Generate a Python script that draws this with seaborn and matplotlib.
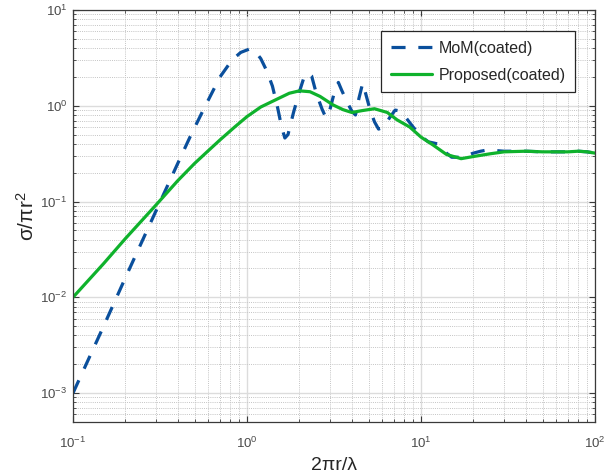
import numpy as np
import pandas as pd
import matplotlib
matplotlib.use("Agg")
import matplotlib.pyplot as plt
import seaborn as sns

# Normalized RCS vs. electrical size, coated cylinder
mom_x = [0.1, 0.15, 0.2, 0.3, 0.4, 0.47, 0.56, 0.7, 0.82, 0.92, 1.03, 1.12,
         1.2, 1.3, 1.4, 1.5, 1.58, 1.65, 1.72, 1.85, 2.0, 2.12, 2.24, 2.35,
         2.5, 2.7, 2.84, 2.98, 3.15, 3.35, 3.5, 3.75, 4.0, 4.2, 4.4, 4.62,
         4.8, 5.1, 5.4, 5.7, 6.1, 6.6, 7.1, 7.6, 8.1, 9.0, 10, 11, 12.4,
         13.7, 15, 16.5, 18, 20, 22, 24, 27, 30, 40, 50, 60, 70, 80, 90, 100]
mom_y = [0.001, 0.005, 0.016, 0.08, 0.25, 0.47, 0.9, 2.0, 3.0, 3.6, 3.9, 3.65,
         3.1, 2.3, 1.6, 0.95, 0.6, 0.46, 0.5, 0.85, 1.4, 1.95, 2.2, 2.05,
         1.35, 0.92, 0.75, 0.88, 1.3, 1.75, 1.45, 1.1, 0.88, 0.8, 1.2, 1.72,
         1.35, 0.9, 0.68, 0.57, 0.6, 0.75, 0.9, 0.88, 0.77, 0.6, 0.48, 0.42, 0.40,
         0.33, 0.29, 0.29, 0.30, 0.32, 0.335, 0.345, 0.34, 0.335, 0.335, 0.33,
         0.33, 0.33, 0.335, 0.33, 0.32]

prop_x = [0.1, 0.15, 0.2, 0.3, 0.4, 0.5, 0.6, 0.7, 0.85, 1.0, 1.2, 1.5, 1.75,
          2.0, 2.3, 2.63, 3.12, 3.56, 4.0, 4.6, 5.4, 6.4, 7.3, 8.6, 10, 11.7,
          14, 17, 20, 25, 30, 40, 50, 60, 70, 80, 90, 100]
prop_y = [0.01, 0.0225, 0.041, 0.092, 0.165, 0.25, 0.34, 0.44, 0.6, 0.77,
          0.97, 1.18, 1.35, 1.43, 1.40, 1.25, 1.02, 0.91, 0.85, 0.89, 0.93,
          0.85, 0.71, 0.60, 0.47, 0.39, 0.31, 0.28, 0.295, 0.315, 0.33, 0.335,
          0.33, 0.33, 0.33, 0.335, 0.33, 0.32]

mom = pd.DataFrame({"x": mom_x, "y": mom_y})
prop = pd.DataFrame({"x": prop_x, "y": prop_y})

sns.set_style("ticks")
plt.rcParams["font.family"] = ["Liberation Sans", "DejaVu Sans"]
plt.rcParams["mathtext.fontset"] = "custom"
plt.rcParams["mathtext.rm"] = "Liberation Sans"
plt.rcParams["mathtext.it"] = "Liberation Sans:italic"

fig = plt.figure(figsize=(6.16, 4.73), dpi=100)
ax = fig.add_axes([0.1185, 0.108, 0.8475, 0.871])
ax.set_xscale("log")
ax.set_yscale("log")

sns.lineplot(data=mom, x="x", y="y", ax=ax, color="#0a4f9c", lw=2.3,
             linestyle=(0, (4.4, 4.0)), label="MoM(coated)", sort=False)
sns.lineplot(data=prop, x="x", y="y", ax=ax, color="#0fb22c", lw=2.3,
             label="Proposed(coated)", sort=False)

ax.set_xlim(0.1, 100)
ax.set_ylim(5e-4, 10)

ax.grid(True, which="major", color="#dcdcdc", lw=1.0, ls="-")
ax.grid(True, which="minor", color="#c4c4c4", lw=0.7, ls=(0, (1, 1.2)))
ax.set_axisbelow(True)

ax.tick_params(which="both", direction="in", top=True, right=True,
               colors="#3a3a3a", labelcolor="#4a4a4a", labelsize=9.5)
ax.tick_params(which="major", length=4.5, width=0.8)
ax.tick_params(which="minor", length=2.5, width=0.6)
ax.tick_params(axis="x", which="major", pad=10)
ax.tick_params(axis="y", which="major", pad=4)
for s in ax.spines.values():
    s.set_color("#3a3a3a")
    s.set_linewidth(0.9)

ax.set_xlabel("2πr/λ", fontsize=14, color="#262626", labelpad=4)
ax.set_ylabel("σ/πr$^2$", fontsize=15, color="#262626")
ax.yaxis.set_label_coords(-0.068, 0.5)

leg = ax.legend(loc="upper right", bbox_to_anchor=(0.962, 0.949),
                borderaxespad=0, fontsize=11.5, frameon=True, fancybox=False,
                framealpha=1, edgecolor="#262626", handlelength=2.6,
                borderpad=0.6, labelspacing=0.75, handletextpad=0.4)
leg.get_frame().set_linewidth(0.9)

fig.savefig("out.png", dpi=100)
